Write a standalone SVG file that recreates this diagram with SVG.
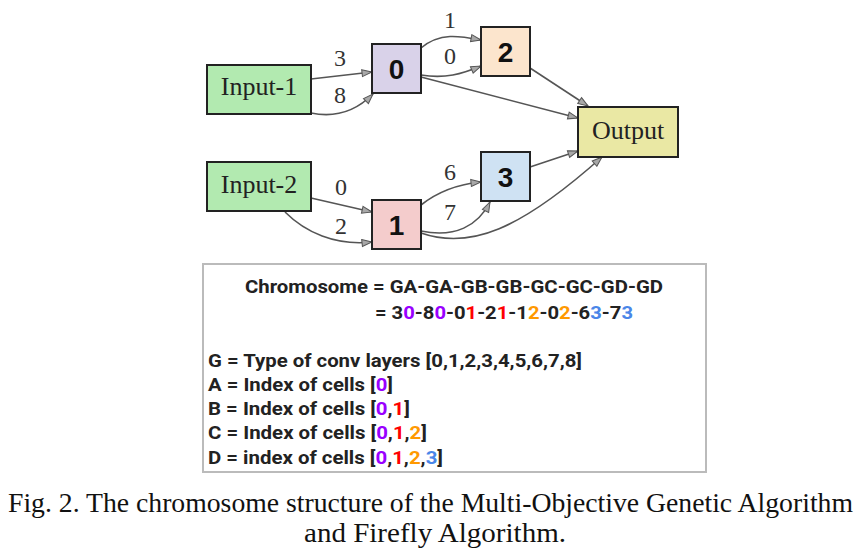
<svg xmlns="http://www.w3.org/2000/svg" width="860" height="560" viewBox="0 0 860 560">
<defs>
<marker id="arr" markerUnits="userSpaceOnUse" markerWidth="12" markerHeight="9" refX="11" refY="4" orient="auto" viewBox="0 0 12 8">
<path d="M1,0.5 L11,4 L1,7.5 z" fill="#a8a8a8" stroke="#555" stroke-width="1"/>
</marker>
<style>
.box{stroke:#222;stroke-width:2}
.lbl{font-family:"Liberation Serif","Times New Roman",serif;font-size:26px;fill:#222;text-anchor:middle}
.num{font-family:"Liberation Sans",Arial,sans-serif;font-size:28px;font-weight:bold;fill:#111;text-anchor:middle}
.el{font-family:"Liberation Serif","Times New Roman",serif;font-size:24px;fill:#333;text-anchor:middle}
.edge{fill:none;stroke:#555;stroke-width:1.6;marker-end:url(#arr)}
.t{font-family:Roboto,"Liberation Sans",sans-serif;font-size:18px;font-weight:bold;fill:#222}
.cap{font-family:"Liberation Serif","Times New Roman",serif;font-size:27.5px;fill:#111}
.p{fill:#9900ff}.r{fill:#ff0000}.o{fill:#ff9900}.b{fill:#4a86e8}
</style>
</defs>
<rect width="860" height="560" fill="#fff"/>

<g id="connectors">
<path class="edge" d="M311,79 L372,72"/>
<path class="edge" d="M311,113 C335,118 355,112 373,94"/>
<path class="edge" d="M421,48 C440,32 460,36 481,40"/>
<path class="edge" d="M421,75 C445,79 462,74 481,66"/>
<path class="edge" d="M421,77 L578,118"/>
<path class="edge" d="M530,68 L588,106"/>
<path class="edge" d="M311,198 L372,212"/>
<path class="edge" d="M285,212 C305,232 335,246 372,242"/>
<path class="edge" d="M421,205 C440,190 460,184 481,182"/>
<path class="edge" d="M421,231 C455,238 478,226 490,202"/>
<path class="edge" d="M530,167 L578,151"/>
<path class="edge" d="M421,233 C470,250 520,230 602,157"/>
</g>
<g id="edge-labels">
<text class="el" x="340" y="66">3</text>
<text class="el" x="340" y="103">8</text>
<text class="el" x="450" y="28">1</text>
<text class="el" x="450" y="64">0</text>
<text class="el" x="341" y="195">0</text>
<text class="el" x="341" y="234">2</text>
<text class="el" x="450" y="180">6</text>
<text class="el" x="450" y="220">7</text>
</g>

<g id="input1"><rect class="box" x="207" y="65" width="104" height="49" fill="#b2eab0"/><text class="lbl" x="259" y="95">Input-1</text></g>
<g id="input2"><rect class="box" x="207" y="162" width="104" height="49" fill="#b2eab0"/><text class="lbl" x="259" y="193">Input-2</text></g>
<g id="node0"><rect class="box" x="372" y="44" width="49" height="49" fill="#d9d2e9"/><text class="num" x="396.5" y="79">0</text></g>
<g id="node1"><rect class="box" x="372" y="200" width="49" height="49" fill="#f4cccc"/><text class="num" x="396.5" y="235">1</text></g>
<g id="node2"><rect class="box" x="481" y="27" width="49" height="49" fill="#fce5cd"/><text class="num" x="505.5" y="62">2</text></g>
<g id="node3"><rect class="box" x="481" y="152" width="49" height="49" fill="#cfe2f3"/><text class="num" x="505.5" y="187">3</text></g>
<g id="output"><rect class="box" x="578" y="107" width="100" height="50" fill="#eae8a4"/><text class="lbl" x="628" y="139">Output</text></g>

<g id="legend">
<rect x="203" y="264" width="503" height="208" fill="#fff" stroke="#bbb" stroke-width="2"/>
<text class="t" x="245" y="293" textLength="418" lengthAdjust="spacingAndGlyphs">Chromosome = GA-GA-GB-GB-GC-GC-GD-GD</text>
<text class="t" x="375" y="319" textLength="258" lengthAdjust="spacingAndGlyphs">= 3<tspan class="p">0</tspan>-8<tspan class="p">0</tspan>-0<tspan class="r">1</tspan>-2<tspan class="r">1</tspan>-1<tspan class="o">2</tspan>-0<tspan class="o">2</tspan>-6<tspan class="b">3</tspan>-7<tspan class="b">3</tspan></text>
<text class="t" x="208" y="367" textLength="374" lengthAdjust="spacingAndGlyphs">G = Type of conv layers [0,1,2,3,4,5,6,7,8]</text>
<text class="t" x="208" y="391" textLength="185" lengthAdjust="spacingAndGlyphs">A = Index of cells [<tspan class="p">0</tspan>]</text>
<text class="t" x="208" y="415" textLength="202" lengthAdjust="spacingAndGlyphs">B = Index of cells [<tspan class="p">0</tspan>,<tspan class="r">1</tspan>]</text>
<text class="t" x="208" y="439" textLength="219" lengthAdjust="spacingAndGlyphs">C = Index of cells [<tspan class="p">0</tspan>,<tspan class="r">1</tspan>,<tspan class="o">2</tspan>]</text>
<text class="t" x="208" y="464" textLength="235" lengthAdjust="spacingAndGlyphs">D = index of cells [<tspan class="p">0</tspan>,<tspan class="r">1</tspan>,<tspan class="o">2</tspan>,<tspan class="b">3</tspan>]</text>
</g>

<g id="caption">
<text class="cap" x="8" y="512" textLength="845" lengthAdjust="spacingAndGlyphs">Fig. 2. The chromosome structure of the Multi-Objective Genetic Algorithm</text>
<text class="cap" x="304" y="542" textLength="262" lengthAdjust="spacingAndGlyphs">and Firefly Algorithm.</text>
</g>
</svg>
